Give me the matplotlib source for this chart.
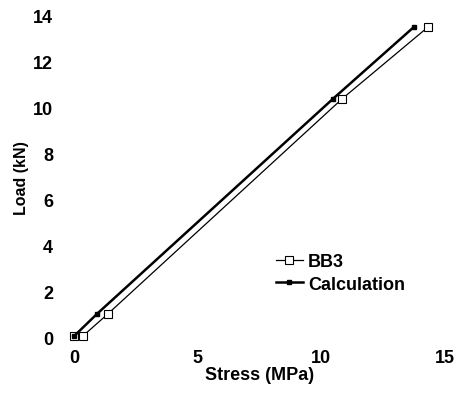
import matplotlib
matplotlib.use("Agg")
import matplotlib.pyplot as plt

bb3_stress = [0.0, 0.35, 1.37, 10.84, 14.3]
bb3_load = [0.07, 0.07, 1.04, 10.39, 13.5]
calc_stress = [0.0, 0.93, 10.47, 13.75]
calc_load = [0.07, 1.04, 10.39, 13.52]

xticks = [0, 5, 10, 15]
yticks = [0, 2, 4, 6, 8, 10, 12, 14]

plt.rcParams['font.family'] = ['Liberation Sans', 'DejaVu Sans']
plt.rcParams['font.weight'] = 'bold'

fig = plt.figure(figsize=(4.62, 4.02), dpi=100)
ax = fig.add_axes([0.16, 0.157, 0.803, 0.801])

ax.plot(bb3_stress, bb3_load, color='black', lw=0.9, marker='s', ms=6,
        mfc='white', mec='black', mew=0.8, label='BB3', clip_on=False)
ax.plot(calc_stress, calc_load, color='black', lw=1.8, marker='s', ms=3.5,
        mfc='black', mec='black', label='Calculation', clip_on=False)

ax.set_xlim(0, 15)
ax.set_ylim(0, 14)
ax.set_xticks(xticks)
ax.set_yticks(yticks)
for s in ax.spines.values():
    s.set_visible(False)
ax.tick_params(axis='both', length=0, labelsize=13)
ax.tick_params(axis='y', pad=15)
ax.tick_params(axis='x', pad=8)
for lab in ax.get_xticklabels() + ax.get_yticklabels():
    lab.set_fontweight('bold')

ax.set_xlabel('Stress (MPa)', fontsize=13, fontweight='bold', labelpad=0)
ax.set_ylabel('Load (kN)', fontsize=11.5, fontweight='bold', labelpad=3)

leg = ax.legend(loc='lower left', bbox_to_anchor=(0.5, 0.09), frameon=False,
                prop={'size': 13, 'weight': 'bold'}, handlelength=1.5,
                handletextpad=0.3, labelspacing=0.3)

fig.savefig('out.png', dpi=100)
